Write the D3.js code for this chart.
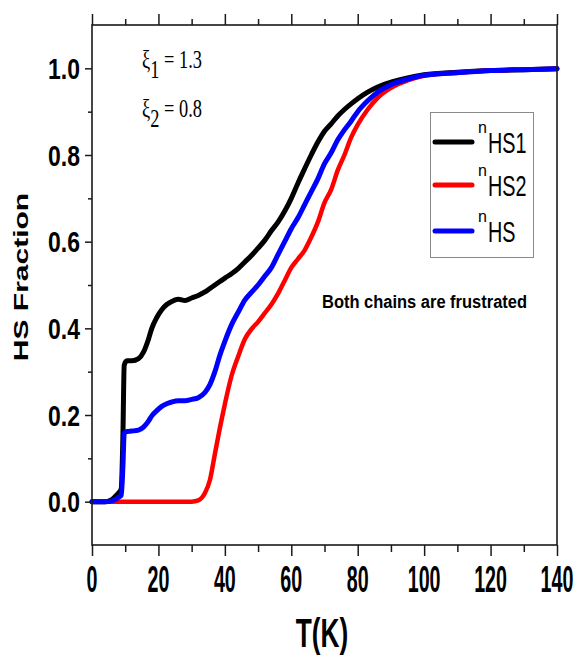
<!DOCTYPE html>
<html>
<head>
<meta charset="utf-8">
<script src="https://cdn.jsdelivr.net/npm/d3@7"></script>
<style>
  html, body { margin: 0; padding: 0; background: #fff; }
  svg { display: block; }
</style>
</head>
<body>
<div id="chart"></div>
<script>
const temps = [0, 4, 6, 7, 8, 8.8, 9.3, 9.7, 10.5, 12, 14, 15.5, 17, 18, 19.5, 21, 22.5, 24, 26, 28,
  30, 32, 34, 35.5, 37, 38.5, 40, 42, 44, 46, 48, 50, 52, 54, 56, 58, 60, 62, 64, 66,
  68, 70, 72, 74, 76, 78, 80, 83, 86, 90, 95, 100, 110, 120, 130, 140];

// n_HS1 (black)
const nHS1 = [0, 0, 0.005, 0.012, 0.02, 0.03, 0.15, 0.315, 0.325, 0.325, 0.33, 0.345, 0.375, 0.40, 0.425, 0.443, 0.455, 0.462, 0.467, 0.464,
  0.47, 0.476, 0.484, 0.492, 0.50, 0.508, 0.516, 0.526, 0.538, 0.553, 0.568, 0.585, 0.603, 0.625, 0.645, 0.67, 0.70, 0.735, 0.768, 0.80,
  0.83, 0.855, 0.872, 0.89, 0.905, 0.918, 0.93, 0.945, 0.957, 0.968, 0.978, 0.985, 0.991, 0.995, 0.997, 0.999];

// n_HS2 (red)
const nHS2 = [0, 0, 0, 0, 0, 0, 0, 0, 0, 0, 0, 0, 0, 0, 0, 0, 0, 0, 0, 0,
  0, 0.003, 0.02, 0.05, 0.11, 0.17, 0.225, 0.29, 0.335, 0.375, 0.398, 0.415, 0.435, 0.455, 0.48, 0.51, 0.54, 0.56, 0.58, 0.61,
  0.645, 0.69, 0.72, 0.765, 0.80, 0.84, 0.87, 0.905, 0.932, 0.955, 0.972, 0.983, 0.99, 0.995, 0.997, 0.999];

// n_HS (blue)
const nHS = [0, 0, 0.002, 0.005, 0.01, 0.015, 0.08, 0.158, 0.162, 0.163, 0.165, 0.172, 0.186, 0.198, 0.21, 0.22, 0.226, 0.23, 0.233, 0.233,
  0.236, 0.24, 0.252, 0.27, 0.30, 0.338, 0.37, 0.408, 0.437, 0.465, 0.483, 0.50, 0.52, 0.54, 0.57, 0.60, 0.63, 0.655, 0.685, 0.715,
  0.745, 0.78, 0.805, 0.835, 0.858, 0.878, 0.90, 0.925, 0.945, 0.962, 0.975, 0.984, 0.99, 0.995, 0.997, 0.999];

const xMajor = [0, 20, 40, 60, 80, 100, 120, 140];
const xMinor = [10, 30, 50, 70, 90, 110, 130];
const yMajor = [0, 0.2, 0.4, 0.6, 0.8, 1.0];
const yMinor = [0.1, 0.3, 0.5, 0.7, 0.9];

const seriesNames = ["HS1", "HS2", "HS"];
const seriesColors = ["#000000", "#ff0000", "#0000ff"];
const seriesValues = [nHS1, nHS2, nHS];
const drawOrder = [0, 1, 2];

const W = 577, H = 657;
const margin = {top: 25, right: 20, bottom: 112, left: 92};
const plotW = W - margin.left - margin.right;
const plotH = H - margin.top - margin.bottom;

const svg = d3.select("#chart").append("svg")
  .attr("width", W)
  .attr("height", H);

const x = d3.scaleLinear().domain([0, 140]).range([margin.left, margin.left + plotW]);
const y = d3.scaleLinear().domain([-0.1, 1.1]).range([margin.top + plotH, margin.top]);

const axisColor = "#1a1a1a";
const sansFont = "'Liberation Sans', Arial, sans-serif";
const serifFont = "'Liberation Serif', 'Times New Roman', serif";

// helper for text that needs a horizontal/vertical stretch
function stretchText(str, px, py, size, sx, sy, anchor, weight, family) {
  return svg.append("text")
    .attr("transform", `translate(${px},${py}) scale(${sx},${sy})`)
    .attr("text-anchor", anchor)
    .style("font-family", family || sansFont)
    .style("font-weight", weight || "bold")
    .style("font-size", size + "px")
    .attr("fill", "#000")
    .text(str);
}

// curves
const line = d3.line()
  .x((d, i) => x(temps[i]))
  .y(d => y(d))
  .curve(d3.curveMonotoneX);

drawOrder.forEach(k => {
  svg.append("path")
    .datum(seriesValues[k])
    .attr("fill", "none")
    .attr("stroke", seriesColors[k])
    .attr("stroke-width", k === 1 ? 4.5 : 5)
    .attr("stroke-linejoin", "round")
    .attr("stroke-linecap", "round")
    .attr("d", line);
});

// axes: ticks only, frame drawn separately
function tickAxis(axisFn, scale, values, size, translate) {
  const g = svg.append("g")
    .attr("transform", translate)
    .call(axisFn(scale).tickValues(values).tickSize(size).tickFormat(""));
  g.select(".domain").remove();
  g.selectAll("line").attr("stroke", axisColor).attr("stroke-width", 1.5);
  return g;
}

const bottomY = margin.top + plotH;
tickAxis(d3.axisBottom, x, xMajor, 11, `translate(0,${bottomY})`);
tickAxis(d3.axisBottom, x, xMinor, 7, `translate(0,${bottomY})`);
tickAxis(d3.axisTop, x, xMajor, 11, `translate(0,${margin.top})`);
tickAxis(d3.axisTop, x, xMinor, 6, `translate(0,${margin.top})`);
tickAxis(d3.axisLeft, y, yMajor, 7, `translate(${margin.left},0)`);
tickAxis(d3.axisLeft, y, yMinor, 4, `translate(${margin.left},0)`);

svg.append("rect")
  .attr("x", margin.left)
  .attr("y", margin.top)
  .attr("width", plotW)
  .attr("height", plotH)
  .attr("fill", "none")
  .attr("stroke", axisColor)
  .attr("stroke-width", 1.6);

// tick labels
xMajor.forEach(v => stretchText(String(v), x(v), bottomY + 47, 24, 0.82, 1.55, "middle"));
yMajor.forEach(v => stretchText(d3.format(".1f")(v), margin.left - 12, y(v) + 10.5, 28, 0.82, 1.05, "end"));

// axis titles
stretchText("T(K)", 322, 647, 32, 0.82, 1.25, "middle");
svg.append("text")
  .attr("transform", "translate(28,277) rotate(-90) scale(1.5,1)")
  .attr("text-anchor", "middle")
  .style("font-family", sansFont)
  .style("font-weight", "bold")
  .style("font-size", "20px")
  .text("HS Fraction");

// parameters
const xiLabels = [["1", "1.3"], ["2", "0.8"]];
xiLabels.forEach((p, i) => {
  const t = svg.append("text")
    .attr("transform", `translate(142,${68 + i * 48.5}) scale(0.92,1.25)`)
    .style("font-family", serifFont)
    .style("font-size", "20px");
  t.append("tspan").text("\u03BE");
  t.append("tspan").attr("dy", 8).text(p[0]);
  t.append("tspan").attr("dy", -8).text(" = " + p[1]);
});

// annotation
svg.append("text")
  .attr("x", 322)
  .attr("y", 308)
  .attr("textLength", 205)
  .attr("lengthAdjust", "spacingAndGlyphs")
  .style("font-family", sansFont)
  .style("font-weight", "bold")
  .style("font-size", "18px")
  .text("Both chains are frustrated");

// legend
const legend = svg.append("g");
legend.append("rect")
  .attr("x", 430.5).attr("y", 112.5)
  .attr("width", 103).attr("height", 145)
  .attr("fill", "#fff")
  .attr("stroke", "#8a8a8a")
  .attr("stroke-width", 1);

const rowY = [142, 185, 231];
seriesNames.forEach((name, i) => {
  legend.append("line")
    .attr("x1", 435).attr("x2", 472)
    .attr("y1", rowY[i]).attr("y2", rowY[i])
    .attr("stroke", seriesColors[i])
    .attr("stroke-width", 5)
    .attr("stroke-linecap", "round");
  legend.append("text")
    .attr("x", 478).attr("y", rowY[i] - 9)
    .style("font-family", sansFont)
    .style("font-size", "16px")
    .text("n");
  legend.append("text")
    .attr("transform", `translate(488,${rowY[i] + 11}) scale(0.9,1.3)`)
    .style("font-family", sansFont)
    .style("font-size", "22px")
    .text(name);
});
</script>
</body>
</html>
